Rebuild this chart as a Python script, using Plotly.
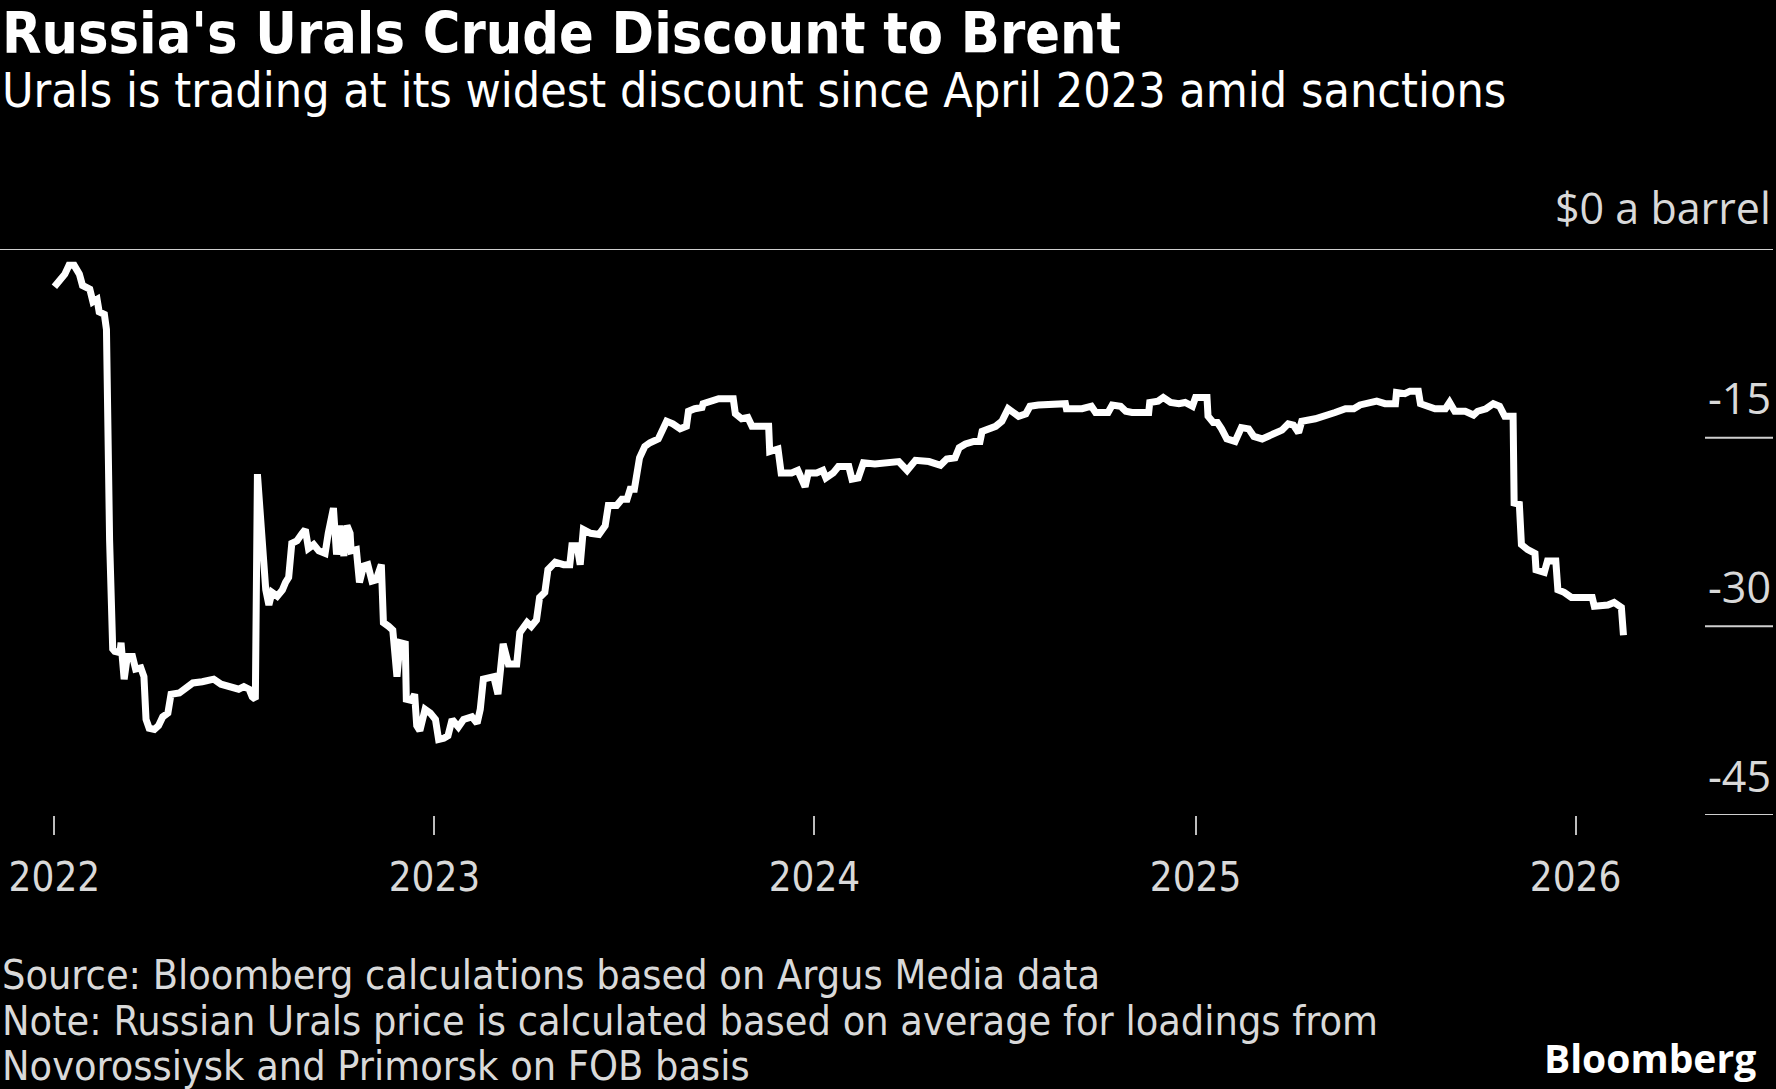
import plotly.graph_objects as go

# ---------------- data ----------------
dates = [
    "2022-01-01", "2022-01-06", "2022-01-11", "2022-01-15", "2022-01-20", "2022-01-25",
    "2022-01-28", "2022-02-04", "2022-02-07", "2022-02-11", "2022-02-13", "2022-02-18",
    "2022-02-20", "2022-02-23", "2022-02-26", "2022-02-28", "2022-03-05", "2022-03-06",
    "2022-03-09", "2022-03-12", "2022-03-17", "2022-03-20", "2022-03-25", "2022-03-28",
    "2022-03-30", "2022-04-02", "2022-04-07", "2022-04-11", "2022-04-15", "2022-04-20",
    "2022-04-23", "2022-05-01", "2022-05-07", "2022-05-14", "2022-05-23", "2022-06-03",
    "2022-06-10", "2022-06-21", "2022-06-27", "2022-07-02", "2022-07-07", "2022-07-10",
    "2022-07-13", "2022-07-15", "2022-07-18", "2022-07-23", "2022-07-26", "2022-07-29",
    "2022-08-03", "2022-08-08", "2022-08-11", "2022-08-14", "2022-08-17", "2022-08-22",
    "2022-08-27", "2022-08-30", "2022-09-02", "2022-09-07", "2022-09-12", "2022-09-18",
    "2022-09-21", "2022-09-26", "2022-09-29", "2022-10-02", "2022-10-06", "2022-10-09",
    "2022-10-12", "2022-10-13", "2022-10-18", "2022-10-21", "2022-10-25", "2022-10-29",
    "2022-11-02", "2022-11-06", "2022-11-11", "2022-11-13", "2022-11-18", "2022-11-22",
    "2022-11-26", "2022-11-29", "2022-12-04", "2022-12-05", "2022-12-10", "2022-12-13",
    "2022-12-15", "2022-12-18", "2022-12-23", "2022-12-28", "2023-01-02", "2023-01-05",
    "2023-01-10", "2023-01-14", "2023-01-18", "2023-01-24", "2023-01-29", "2023-02-06",
    "2023-02-11", "2023-02-14", "2023-02-17", "2023-02-22", "2023-02-27", "2023-03-03",
    "2023-03-08", "2023-03-13", "2023-03-21", "2023-03-24", "2023-03-31", "2023-04-04",
    "2023-04-09", "2023-04-12", "2023-04-17", "2023-04-20", "2023-04-27", "2023-05-05",
    "2023-05-11", "2023-05-13", "2023-05-18", "2023-05-21", "2023-05-24", "2023-05-31",
    "2023-06-08", "2023-06-14", "2023-06-17", "2023-06-25", "2023-06-30", "2023-07-05",
    "2023-07-08", "2023-07-12", "2023-07-14", "2023-07-17", "2023-07-22", "2023-07-27",
    "2023-08-04", "2023-08-07", "2023-08-12", "2023-08-18", "2023-08-25", "2023-08-31",
    "2023-09-02", "2023-09-08", "2023-09-15", "2023-09-16", "2023-09-23", "2023-10-01",
    "2023-10-15", "2023-10-17", "2023-10-23", "2023-10-29", "2023-11-02", "2023-11-18",
    "2023-11-19", "2023-11-27", "2023-11-30", "2023-12-10", "2023-12-16", "2023-12-23",
    "2023-12-26", "2024-01-03", "2024-01-09", "2024-01-12", "2024-01-19", "2024-01-24",
    "2024-02-03", "2024-02-06", "2024-02-12", "2024-02-17", "2024-02-28", "2024-03-09",
    "2024-03-22", "2024-03-30", "2024-04-07", "2024-04-20", "2024-05-01", "2024-05-07",
    "2024-05-15", "2024-05-19", "2024-05-25", "2024-06-02", "2024-06-08", "2024-06-10",
    "2024-06-16", "2024-06-23", "2024-06-29", "2024-07-05", "2024-07-10", "2024-07-15",
    "2024-07-22", "2024-07-26", "2024-08-03", "2024-08-16", "2024-08-29", "2024-08-30",
    "2024-09-14", "2024-09-23", "2024-09-27", "2024-10-09", "2024-10-13", "2024-10-21",
    "2024-10-26", "2024-11-01", "2024-11-17", "2024-11-18", "2024-11-26", "2024-12-01",
    "2024-12-08", "2024-12-16", "2024-12-22", "2024-12-29", "2025-01-01", "2025-01-12",
    "2025-01-13", "2025-01-18", "2025-01-22", "2025-01-26", "2025-01-31", "2025-02-08",
    "2025-02-14", "2025-02-21", "2025-02-26", "2025-03-06", "2025-03-15", "2025-03-25",
    "2025-03-31", "2025-04-05", "2025-04-10", "2025-04-13", "2025-04-26", "2025-05-06",
    "2025-05-15", "2025-05-25", "2025-06-02", "2025-06-08", "2025-06-16", "2025-06-24",
    "2025-07-02", "2025-07-12", "2025-07-13", "2025-07-21", "2025-07-26", "2025-08-03",
    "2025-08-05", "2025-08-13", "2025-08-19", "2025-08-29", "2025-09-02", "2025-09-07",
    "2025-09-17", "2025-09-25", "2025-09-29", "2025-10-07", "2025-10-14", "2025-10-20",
    "2025-10-25", "2025-11-02", "2025-11-03", "2025-11-08", "2025-11-10", "2025-11-16",
    "2025-11-23", "2025-11-24", "2025-12-02", "2025-12-05", "2025-12-13", "2025-12-15",
    "2025-12-21", "2025-12-28", "2026-01-17", "2026-01-19", "2026-02-01", "2026-02-07",
    "2026-02-14", "2026-02-16",
]

discount = [
    -3.0, -2.5, -2.0, -1.3, -1.3, -2.0,
    -2.9, -3.2, -4.2, -4.0, -5.0, -5.2,
    -6.4, -23.1, -31.8, -32.0, -32.1, -31.3,
    -34.2, -32.4, -32.4, -33.4, -33.3, -34.0,
    -37.4, -38.1, -38.2, -37.9, -37.2, -36.9,
    -35.4, -35.3, -34.9, -34.5, -34.4, -34.2,
    -34.6, -34.9, -35.0, -34.8, -35.0, -35.6,
    -35.8, -17.9, -21.0, -27.1, -28.3, -27.3,
    -27.6, -27.1, -26.5, -26.1, -23.4, -23.2,
    -22.6, -22.3, -23.8, -23.5, -24.0, -24.2,
    -22.6, -20.6, -24.3, -22.0, -24.4, -22.0,
    -22.6, -24.0, -23.9, -26.5, -25.2, -25.1,
    -26.4, -26.3, -25.1, -29.7, -30.0, -30.3,
    -34.0, -31.3, -31.4, -35.8, -35.9, -35.4,
    -37.9, -38.3, -36.6, -36.9, -37.4, -39.0,
    -38.9, -38.7, -37.4, -38.0, -37.4, -37.2,
    -37.7, -36.6, -34.2, -34.1, -34.0, -35.4,
    -31.4, -33.0, -33.0, -30.5, -29.7, -30.0,
    -29.5, -27.7, -27.3, -25.5, -24.9, -25.1,
    -25.1, -23.6, -23.6, -25.1, -22.3, -22.6,
    -22.7, -22.0, -20.4, -20.4, -19.9, -19.9,
    -19.1, -19.1, -18.2, -16.6, -15.7, -15.4,
    -15.1, -14.5, -13.7, -13.9, -14.3, -14.1,
    -12.9, -12.7, -12.6, -12.3, -12.1, -11.9,
    -11.9, -13.1, -13.5, -13.4, -14.1, -14.1,
    -16.1, -15.9, -17.8, -17.8, -17.6, -18.9,
    -17.8, -17.8, -17.6, -18.2, -17.8, -17.3,
    -17.3, -18.3, -18.2, -17.0, -17.1, -17.0,
    -16.9, -17.6, -16.8, -16.9, -17.2, -16.7,
    -16.6, -15.8, -15.5, -15.3, -15.3, -14.5,
    -14.3, -14.1, -13.7, -12.7, -13.0, -13.3,
    -13.1, -12.5, -12.4, -12.3, -12.3, -12.7,
    -12.7, -12.5, -13.0, -13.0, -12.4, -12.5,
    -12.9, -13.0, -13.0, -12.2, -12.1, -11.8,
    -12.2, -12.3, -12.2, -12.5, -11.8, -11.8,
    -13.3, -13.8, -13.8, -14.3, -15.1, -15.3,
    -14.2, -14.3, -14.9, -15.1, -14.7, -14.4,
    -13.9, -14.0, -14.6, -13.7, -13.5, -13.3,
    -13.0, -12.7, -12.7, -12.4, -12.2, -12.1,
    -12.3, -12.3, -11.4, -11.5, -11.3, -11.3,
    -12.3, -12.5, -12.7, -12.7, -12.2, -12.9,
    -12.9, -13.2, -12.9, -12.7, -12.3, -12.5,
    -13.3, -13.3, -20.2, -20.3, -23.5, -23.9,
    -24.2, -25.5, -25.7, -24.8, -24.8, -27.1,
    -27.3, -27.7, -27.7, -28.4, -28.3, -28.1,
    -28.5, -30.7,
]

y_tick_values = [-15, -30, -45]
y_tick_labels = ["-15", "-30", "-45"]
zero_label = "$0 a barrel"

x_tick_dates = ["2022-01-01", "2023-01-01", "2024-01-01", "2025-01-01", "2026-01-01"]
x_tick_labels = ["2022", "2023", "2024", "2025", "2026"]

title = "Russia's Urals Crude Discount to Brent"
subtitle = "Urals is trading at its widest discount since April 2023 amid sanctions"
footer_lines = [
    "Source: Bloomberg calculations based on Argus Media data",
    "Note: Russian Urals price is calculated based on average for loadings from",
    "Novorossiysk and Primorsk on FOB basis",
]

# ---------------- layout constants ----------------
W, H = 1776, 1089
PLOT_TOP, PLOT_BOTTOM = 249, 815
PLOT_H = PLOT_BOTTOM - PLOT_TOP
COND = "DejaVu Sans Condensed, DejaVu Sans, sans-serif"
LABEL_FONT = "Open Sans, Noto Sans, sans-serif"
GREY = "#d9d9d9"
LINE_GREY = "#cfcfcf"
RIGHT = 1773 / W
SHORT_LEFT = 1705 / W


def py(p):
    return (PLOT_BOTTOM - p) / PLOT_H


fig = go.Figure()
fig.add_trace(go.Scatter(
    x=dates, y=discount, mode="lines",
    line=dict(color="#ffffff", width=7),
    hoverinfo="skip", showlegend=False,
))

shapes = [dict(type="line", xref="paper", yref="y", x0=0, x1=RIGHT, y0=0, y1=0,
               line=dict(color=LINE_GREY, width=2))]
for v in y_tick_values:
    shapes.append(dict(type="line", xref="paper", yref="y", x0=SHORT_LEFT, x1=RIGHT,
                       y0=v, y1=v, line=dict(color=LINE_GREY, width=2)))

annotations = []
annotations.append(dict(xref="paper", yref="y", x=RIGHT, y=0, yshift=42,
                        xanchor="right", yanchor="middle", showarrow=False,
                        text=zero_label, font=dict(family=LABEL_FONT, size=43, color=GREY)))
for v, t in zip(y_tick_values, y_tick_labels):
    annotations.append(dict(xref="paper", yref="y", x=RIGHT, y=v, yshift=40,
                            xanchor="right", yanchor="middle", showarrow=False,
                            text=t, font=dict(family=LABEL_FONT, size=43, color=GREY)))

annotations.append(dict(xref="paper", yref="paper", x=0, y=py(33), xanchor="left",
                        yanchor="middle", showarrow=False, text="<b>" + title + "</b>",
                        font=dict(family=COND, size=57, color="#ffffff")))
annotations.append(dict(xref="paper", yref="paper", x=0, y=py(90), xanchor="left",
                        yanchor="middle", showarrow=False, text=subtitle,
                        font=dict(family=COND, size=48, color="#ffffff")))
for i, line_text in enumerate(footer_lines):
    annotations.append(dict(xref="paper", yref="paper", x=0, y=py(975 + 45.5 * i),
                            xanchor="left", yanchor="middle", showarrow=False,
                            text=line_text, font=dict(family=COND, size=41, color=GREY)))
annotations.append(dict(xref="paper", yref="paper", x=1758 / W, y=py(1057),
                        xanchor="right", yanchor="middle", showarrow=False,
                        text="<b>Bloomberg</b>",
                        font=dict(family="Open Sans, sans-serif", size=39, color="#ffffff")))

fig.update_layout(
    width=W, height=H,
    margin=dict(l=0, r=0, t=PLOT_TOP, b=H - PLOT_BOTTOM, pad=0),
    paper_bgcolor="#000000", plot_bgcolor="#000000",
    showlegend=False,
    shapes=shapes, annotations=annotations,
    xaxis=dict(
        range=["2021-11-09 18:00", "2026-07-12 12:00"],
        showgrid=False, zeroline=False, showline=False,
        tickmode="array", tickvals=x_tick_dates, ticktext=x_tick_labels,
        ticks="outside", ticklen=19, tickwidth=2, tickcolor="#bdbdbd",
        tickfont=dict(family=COND, size=40, color=GREY),
        ticklabelstandoff=8,
        fixedrange=True,
    ),
    yaxis=dict(
        range=[-45, 0], showgrid=False, zeroline=False, showline=False,
        showticklabels=False, ticks="", fixedrange=True,
    ),
)

fig.write_html(
    "out.html",
    config={"displayModeBar": False, "responsive": False},
    post_script="document.body.style.margin='0';document.body.style.padding='0';"
                "document.body.style.background='#000000';",
)
